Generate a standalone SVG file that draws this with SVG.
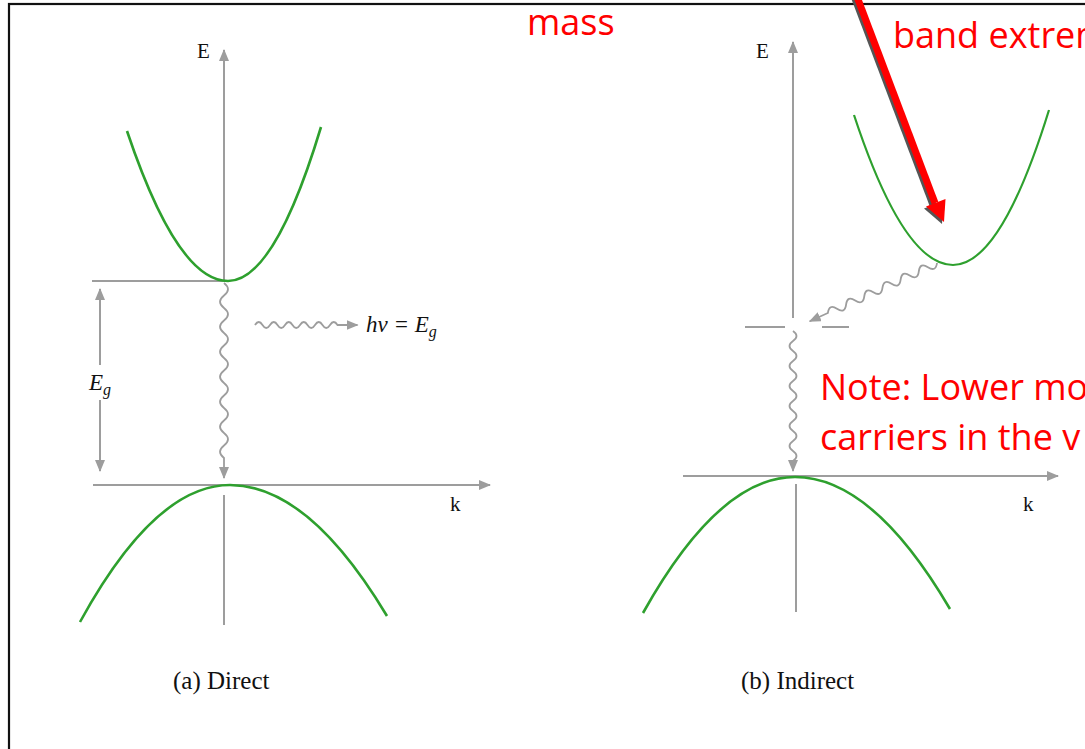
<svg xmlns="http://www.w3.org/2000/svg" width="1085" height="749" viewBox="0 0 1085 749">
<style>
.ax{stroke:#9d9d9d;stroke-width:2;fill:none}
.band{stroke:#2ea02e;stroke-width:2.6;fill:none}
.band2{stroke:#2ea02e;stroke-width:2.2;fill:none}
.wave{stroke:#9d9d9d;stroke-width:1.8;fill:none}
.lbl{font-family:"Liberation Serif","Times New Roman",serif;font-size:21px;fill:#111}
.cap{font-family:"Liberation Serif","Times New Roman",serif;font-size:25px;fill:#111}
.it{font-family:"Liberation Serif","Times New Roman",serif;font-style:italic;font-size:23px;fill:#111}
.red{font-family:"Open Sans","Liberation Sans",sans-serif;font-size:36px;fill:#ff0000}
</style>
<defs>
<marker id="ah" viewBox="0 0 12 10" refX="11" refY="5" markerWidth="12" markerHeight="10" markerUnits="userSpaceOnUse" orient="auto">
<path d="M0,0 L12,5 L0,10 Z" fill="#9d9d9d"/>
</marker>
</defs>
<rect x="9" y="4" width="1100" height="760" fill="#fff" stroke="#111" stroke-width="2.2"/>

<g id="direct">
<line class="ax" x1="224" y1="281" x2="224" y2="50" marker-end="url(#ah)"/>
<text class="lbl" x="197" y="58">E</text>
<line class="ax" x1="92" y1="281" x2="228" y2="281"/>
<line class="ax" x1="93" y1="485" x2="490" y2="485" marker-end="url(#ah)"/>
<text class="lbl" x="450" y="511">k</text>
<line class="ax" x1="224" y1="495" x2="224" y2="625"/>
<path class="band" d="M127,131 Q177.5,281 228,281 Q274.5,281 321,127"/>
<path class="band" d="M80,622 Q155,485 230,485 Q308.5,485 387,616"/>
<line class="ax" x1="100" y1="365" x2="100" y2="289" marker-end="url(#ah)"/>
<line class="ax" x1="100" y1="400" x2="100" y2="471" marker-end="url(#ah)"/>
<text class="it" x="89" y="390">E<tspan font-size="16" dy="5">g</tspan></text>
<path class="wave" d="M224,283 q8,6.25 0,12.5 t0,12.5 t0,12.5 t0,12.5 t0,12.5 t0,12.5 t0,12.5 t0,12.5 t0,12.5 t0,12.5 t0,12.5 t0,12.5 t0,12.5 t0,12.5 l0,20" marker-end="url(#ah)"/>
<path class="wave" d="M255,325 q3.75,-6 7.5,0 t7.5,0 t7.5,0 t7.5,0 t7.5,0 t7.5,0 t7.5,0 t7.5,0 t7.5,0 t7.5,0 t7.5,0 l20,0" marker-end="url(#ah)"/>
<text class="it" x="366" y="332">hν = E<tspan font-size="16" dy="5">g</tspan></text>
<text class="cap" x="173" y="689">(a) Direct</text>
</g>

<g id="indirect">
<line class="ax" x1="793" y1="318" x2="793" y2="42" marker-end="url(#ah)"/>
<text class="lbl" x="756" y="58">E</text>
<line class="ax" x1="745" y1="327" x2="785" y2="327"/>
<line class="ax" x1="822" y1="327" x2="849" y2="327"/>
<line class="ax" x1="683" y1="476" x2="1058" y2="476" marker-end="url(#ah)"/>
<text class="lbl" x="1023" y="511">k</text>
<line class="ax" x1="796" y1="484" x2="796" y2="612"/>
<path class="band2" d="M854,115 Q903.5,265 953,265 Q1001,265 1049,110"/>
<path class="band" d="M643,613 Q719,477 795,477 Q872.5,477 950,609"/>
<path class="wave" transform="translate(937,263) rotate(155.4)" d="M0,0 q5,-8 10,0 t10,0 t10,0 t10,0 t10,0 t10,0 t10,0 t10,0 t10,0 t10,0 t10,0 t10,0 l20,0" marker-end="url(#ah)"/>
<path class="wave" d="M793,331 q7,5 0,10 t0,10 t0,10 t0,10 t0,10 t0,10 t0,10 t0,10 t0,10 t0,10 t0,10 t0,10 t0,10 l0,10" marker-end="url(#ah)"/>
<text class="cap" x="741" y="689">(b) Indirect</text>
</g>

<g id="annotations">
<text class="red" x="527" y="35">mass</text>
<text class="red" x="893" y="48">band extrem</text>
<text class="red" x="820" y="400">Note: Lower mo</text>
<text class="red" x="820" y="450">carriers in the v</text>
<g transform="translate(-2,2)" fill="#555" stroke="#555">
<line x1="856" y1="-6" x2="935" y2="203" stroke-width="7"/>
<polygon points="944,222 945.5,199 926,206.5" stroke="none"/>
</g>
<g fill="#ff0000" stroke="#ff0000">
<line x1="856" y1="-6" x2="935" y2="203" stroke-width="7"/>
<polygon points="944,222 945.5,199 926,206.5" stroke="none"/>
</g>
</g>
</svg>
